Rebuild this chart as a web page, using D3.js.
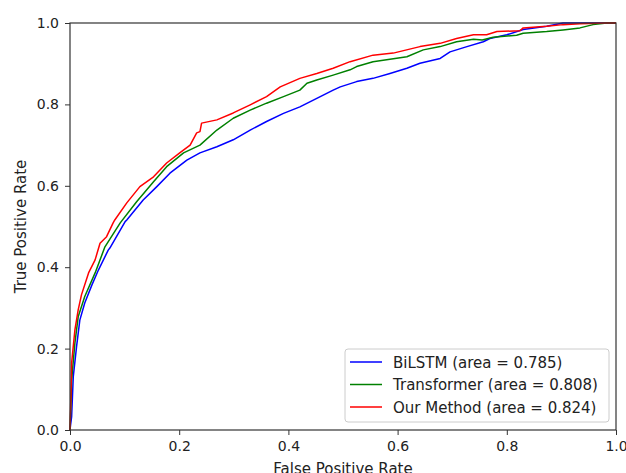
<!DOCTYPE html>
<html>
<head>
<meta charset="utf-8">
<script src="https://cdn.jsdelivr.net/npm/d3@7"></script>
<style>
  body { margin: 0; background: #fff; }
  svg { font-family: "DejaVu Sans", sans-serif; }
</style>
</head>
<body>
<svg width="626" height="473"></svg>
<script>
// ROC points
var bilstmFpr = [0, 0.001, 0.003, 0.006, 0.012, 0.018, 0.027, 0.040, 0.052, 0.070, 0.073, 0.101, 0.104, 0.134, 0.159, 0.183, 0.214, 0.238, 0.269, 0.299, 0.330, 0.360, 0.391, 0.421, 0.452, 0.482, 0.495, 0.525, 0.555, 0.586, 0.617, 0.641, 0.678, 0.696, 0.727, 0.757, 0.769, 0.800, 0.830, 0.873, 0.903, 1];
var bilstmTpr = [0, 0.012, 0.033, 0.131, 0.205, 0.270, 0.312, 0.356, 0.393, 0.442, 0.447, 0.512, 0.516, 0.565, 0.598, 0.631, 0.663, 0.681, 0.696, 0.713, 0.737, 0.758, 0.778, 0.794, 0.815, 0.835, 0.843, 0.856, 0.864, 0.876, 0.889, 0.901, 0.913, 0.929, 0.942, 0.954, 0.962, 0.971, 0.984, 0.992, 1.0, 1];

var transFpr = [0, 0.002, 0.003, 0.009, 0.015, 0.027, 0.046, 0.064, 0.092, 0.122, 0.153, 0.177, 0.208, 0.238, 0.269, 0.299, 0.330, 0.360, 0.391, 0.421, 0.434, 0.452, 0.482, 0.513, 0.525, 0.555, 0.617, 0.647, 0.678, 0.708, 0.739, 0.755, 0.775, 0.818, 0.830, 0.873, 0.903, 0.934, 0.958, 0.983, 1];
var transTpr = [0, 0.074, 0.123, 0.214, 0.278, 0.328, 0.386, 0.450, 0.509, 0.561, 0.610, 0.647, 0.681, 0.700, 0.737, 0.766, 0.786, 0.803, 0.819, 0.835, 0.852, 0.860, 0.872, 0.885, 0.893, 0.905, 0.917, 0.934, 0.942, 0.954, 0.960, 0.958, 0.965, 0.970, 0.975, 0.979, 0.983, 0.988, 0.996, 1.0, 1];

var oursFpr = [0, 0.002, 0.003, 0.009, 0.015, 0.021, 0.034, 0.046, 0.055, 0.067, 0.079, 0.082, 0.104, 0.128, 0.153, 0.177, 0.201, 0.220, 0.232, 0.238, 0.241, 0.269, 0.299, 0.330, 0.360, 0.385, 0.421, 0.452, 0.482, 0.513, 0.555, 0.592, 0.641, 0.678, 0.708, 0.739, 0.763, 0.782, 0.824, 0.830, 0.873, 0.903, 0.934, 0.983, 1];
var oursTpr = [0, 0.100, 0.165, 0.246, 0.295, 0.332, 0.386, 0.418, 0.459, 0.475, 0.509, 0.516, 0.558, 0.598, 0.622, 0.656, 0.681, 0.700, 0.730, 0.733, 0.754, 0.762, 0.779, 0.799, 0.819, 0.843, 0.864, 0.876, 0.889, 0.905, 0.921, 0.926, 0.942, 0.950, 0.962, 0.971, 0.971, 0.979, 0.981, 0.988, 0.992, 0.996, 0.998, 1.0, 1];

var seriesNames = ["BiLSTM (area = 0.785)", "Transformer (area = 0.808)", "Our Method (area = 0.824)"];
var seriesColors = ["#0000ff", "#008000", "#ff0000"];
var ticks = [0, 0.2, 0.4, 0.6, 0.8, 1.0];

var svg = d3.select("svg");
var margin = { left: 70, top: 23, right: 10, bottom: 43 };
var w = 616 - margin.left, h = 430 - margin.top;

var x = d3.scaleLinear().domain([0, 1]).range([0, w]);
var y = d3.scaleLinear().domain([0, 1]).range([h, 0]);

var g = svg.append("g").attr("transform", "translate(" + margin.left + "," + margin.top + ")");

var series = [
  { fpr: bilstmFpr, tpr: bilstmTpr },
  { fpr: transFpr, tpr: transTpr },
  { fpr: oursFpr, tpr: oursTpr }
];

var line = d3.line()
  .x(function (d) { return x(d[0]); })
  .y(function (d) { return y(d[1]); });

g.append("clipPath").attr("id", "clip")
  .append("rect").attr("x", -1).attr("y", -1).attr("width", w + 2).attr("height", h + 2);

series.forEach(function (s, i) {
  g.append("path")
    .datum(d3.zip(s.fpr, s.tpr))
    .attr("clip-path", "url(#clip)")
    .attr("fill", "none")
    .attr("stroke", seriesColors[i])
    .attr("stroke-width", 1.5)
    .attr("stroke-linejoin", "round")
    .attr("d", line);
});

// axes
var fmt = d3.format(".1f");
var xAxis = g.append("g").attr("transform", "translate(0," + h + ")")
  .call(d3.axisBottom(x).tickValues(ticks).tickFormat(fmt).tickSize(5).tickPadding(6));
var yAxis = g.append("g")
  .call(d3.axisLeft(y).tickValues(ticks).tickFormat(fmt).tickSize(5).tickPadding(6));
[xAxis, yAxis].forEach(function (a) {
  a.select(".domain").remove();
  a.selectAll("line").attr("stroke", "#333").attr("stroke-width", 1);
  a.selectAll("text").attr("fill", "#222").style("font-size", "14px").style("font-family", "DejaVu Sans");
});

// frame
g.append("rect").attr("width", w).attr("height", h)
  .attr("fill", "none").attr("stroke", "#333").attr("stroke-width", 1.2);

// axis labels
svg.append("text")
  .attr("x", margin.left + w / 2).attr("y", 474)
  .attr("text-anchor", "middle").style("font-size", "15px").attr("fill", "#222")
  .text("False Positive Rate");
svg.append("text")
  .attr("transform", "translate(26," + (margin.top + h / 2) + ") rotate(-90)")
  .attr("text-anchor", "middle").style("font-size", "15px").attr("fill", "#222")
  .text("True Positive Rate");

// legend
var lg = svg.append("g").attr("transform", "translate(345,349)");
lg.append("rect").attr("width", 264).attr("height", 73).attr("rx", 3)
  .attr("fill", "#fff").attr("fill-opacity", 0.8).attr("stroke", "#ccc");
seriesNames.forEach(function (name, i) {
  var cy = 13 + i * 22.5;
  lg.append("line").attr("x1", 5).attr("x2", 37).attr("y1", cy).attr("y2", cy)
    .attr("stroke", seriesColors[i]).attr("stroke-width", 1.5);
  lg.append("text").attr("x", 48).attr("y", cy + 5.5)
    .style("font-size", "15px").attr("fill", "#222").text(name);
});
</script>
</body>
</html>
